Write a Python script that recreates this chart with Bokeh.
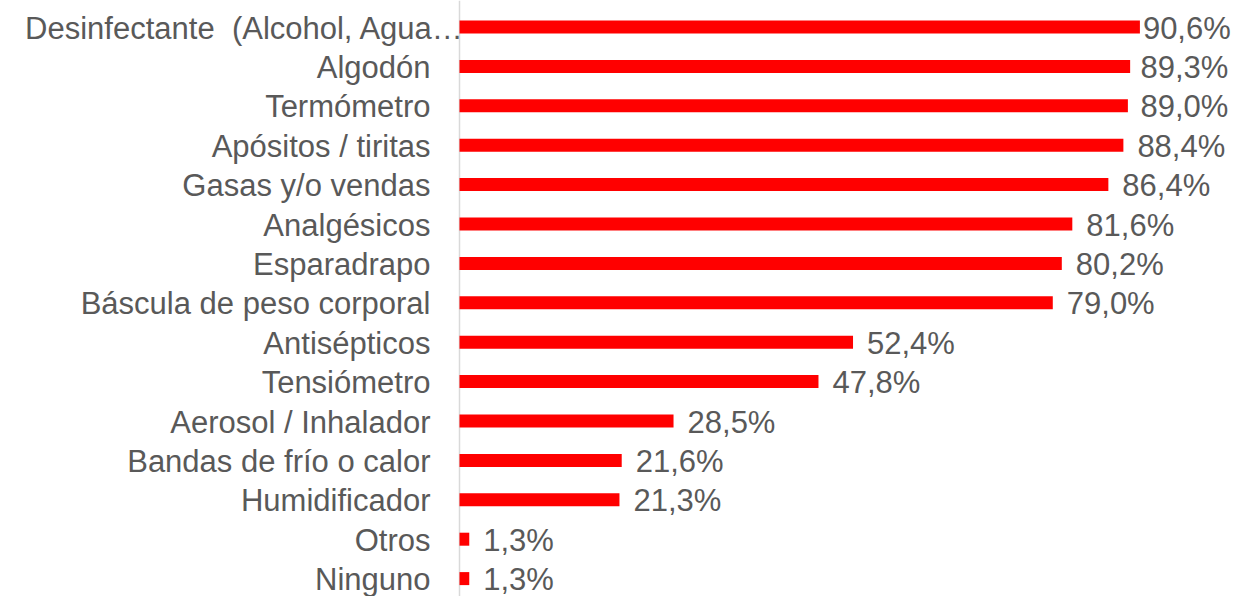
from bokeh.plotting import figure
from bokeh.models import ColumnDataSource, LabelSet, Range1d, Span
from bokeh.core.properties import value
from bokeh.embed import file_html
from bokeh.resources import INLINE

categories = [
    "Desinfectante \u00a0(Alcohol, Agua…",
    "Algodón",
    "Termómetro",
    "Apósitos / tiritas",
    "Gasas y/o vendas",
    "Analgésicos",
    "Esparadrapo",
    "Báscula de peso corporal",
    "Antisépticos",
    "Tensiómetro",
    "Aerosol / Inhalador",
    "Bandas de frío o calor",
    "Humidificador",
    "Otros",
    "Ninguno",
]
values = [90.6, 89.3, 89.0, 88.4, 86.4, 81.6, 80.2, 79.0, 52.4, 47.8, 28.5, 21.6, 21.3, 1.3, 1.3]
value_labels = ["90,6%", "89,3%", "89,0%", "88,4%", "86,4%", "81,6%", "80,2%", "79,0%",
                "52,4%", "47,8%", "28,5%", "21,6%", "21,3%", "1,3%", "1,3%"]

FONT = value("Liberation Sans")
FS = "31px"
GRAY = "#595959"

W, H = 1236, 596
AXIS_PX = 459          # pixel position of the value axis (category side on the left)
px_per_unit = 7.51
ROW = 39.4
FIRST_ROW = 26.5

x_start = -AXIS_PX / px_per_unit
x_end = (W - AXIS_PX) / px_per_unit

n = len(categories)
ypos = [n - 1 - i for i in range(n)]
y_top = (n - 1) + FIRST_ROW / ROW
y_bottom = y_top - H / ROW

# label offsets (Excel pushes the label inwards when it would overflow)
label_w = 92
room = W - AXIS_PX - 4
val_offsets = []
for v in values:
    end = v * px_per_unit
    off = 14
    if end + off + label_w > room:
        off = max(3, room - label_w - end)
    val_offsets.append(off)
cat_offsets = [5 if c.endswith("…") else -29 for c in categories]

src = ColumnDataSource(dict(y=ypos, v=values, cat=categories, lab=value_labels,
                            voff=val_offsets, coff=cat_offsets, zero=[0] * n))

p = figure(width=W, height=H, output_backend="svg", toolbar_location=None,
           x_range=Range1d(x_start, x_end), y_range=Range1d(y_bottom, y_top),
           min_border_left=0, min_border_right=0, min_border_top=0, min_border_bottom=0)
p.xaxis.visible = False
p.yaxis.visible = False
p.grid.visible = False
p.outline_line_color = None
p.background_fill_color = "white"
p.border_fill_color = "white"

p.add_layout(Span(location=0, dimension="height", line_color="#d9d9d9", line_width=1.5, level="underlay"))
p.hbar(y="y", right="v", left=0, height=0.33, source=src, fill_color="#FF0000", line_color=None)

p.add_layout(LabelSet(x="v", y="y", text="lab", source=src, x_offset="voff", y_offset=-1,
                      text_align="left", text_baseline="middle", text_font=FONT,
                      text_font_size=FS, text_color=GRAY))
p.add_layout(LabelSet(x="zero", y="y", text="cat", source=src, x_offset="coff", y_offset=-1,
                      text_align="right", text_baseline="middle", text_font=FONT,
                      text_font_size=FS, text_color=GRAY))

open("out.html", "w").write(file_html(p, INLINE))
